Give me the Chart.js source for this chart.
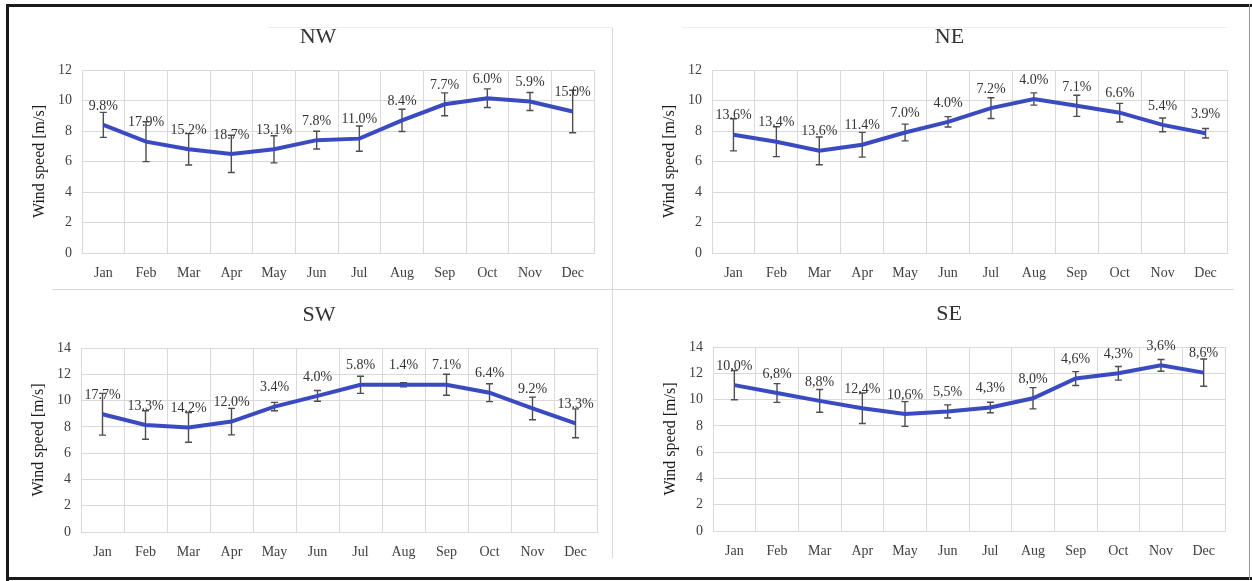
<!DOCTYPE html>
<html>
<head>
<meta charset="utf-8">
<script src="https://cdn.jsdelivr.net/npm/chart.js@4.4.0/dist/chart.umd.min.js"></script>
<style>
  html, body { margin: 0; padding: 0; background: #fff; }
  #page { position: relative; width: 1252px; height: 581px; overflow: hidden; background: #fff; }
  #page canvas { position: absolute; }
  .ln { position: absolute; }
</style>
</head>
<body>
<div id="page">
  <!-- frame and panel separators -->
  <div class="ln" style="left:6px;top:4px;width:1246px;height:3px;background:#1a1a1a"></div>
  <div class="ln" style="left:6px;top:4px;width:3px;height:577px;background:#1a1a1a"></div>
  <div class="ln" style="left:6px;top:577px;width:1246px;height:3px;background:#1a1a1a"></div>
  <div class="ln" style="left:1249px;top:4px;width:1px;height:576px;background:#9a9a9a"></div>
  <div class="ln" style="left:52px;top:289px;width:1182px;height:1px;background:#d9d9d9"></div>
  <div class="ln" style="left:612px;top:27px;width:1px;height:531px;background:#d9d9d9"></div>
  <div class="ln" style="left:268px;top:27px;width:345px;height:1px;background:#eeeeee"></div>
  <div class="ln" style="left:682px;top:27px;width:545px;height:1px;background:#eeeeee"></div>
</div>
<script>
const months = ["Jan", "Feb", "Mar", "Apr", "May", "Jun", "Jul", "Aug", "Sep", "Oct", "Nov", "Dec"];

// NW
const nwSpeed = [8.4, 7.3, 6.8, 6.5, 6.8, 7.4, 7.5, 8.7, 9.75, 10.15, 9.93, 9.28];
const nwError = [0.82, 1.31, 1.03, 1.22, 0.89, 0.58, 0.83, 0.73, 0.75, 0.61, 0.59, 1.39];
const nwPct = ["9.8%", "17.9%", "15.2%", "18.7%", "13.1%", "7.8%", "11.0%", "8.4%", "7.7%", "6.0%", "5.9%", "15.0%"];

// NE
const neSpeed = [7.75, 7.3, 6.7, 7.1, 7.9, 8.6, 9.5, 10.1, 9.65, 9.2, 8.4, 7.85];
const neError = [1.05, 0.98, 0.91, 0.81, 0.55, 0.34, 0.68, 0.40, 0.69, 0.61, 0.45, 0.31];
const nePct = ["13.6%", "13.4%", "13.6%", "11.4%", "7.0%", "4.0%", "7.2%", "4.0%", "7.1%", "6.6%", "5.4%", "3.9%"];

// SW
const swSpeed = [8.96, 8.14, 7.96, 8.4, 9.54, 10.36, 11.2, 11.2, 11.2, 10.6, 9.4, 8.27];
const swError = [1.59, 1.08, 1.13, 1.01, 0.32, 0.41, 0.65, 0.16, 0.80, 0.68, 0.86, 1.10];
const swPct = ["17.7%", "13.3%", "14.2%", "12.0%", "3.4%", "4.0%", "5.8%", "1.4%", "7.1%", "6.4%", "9.2%", "13.3%"];

// SE
const seSpeed = [11.1, 10.5, 9.9, 9.34, 8.9, 9.1, 9.4, 10.1, 11.6, 12.0, 12.6, 12.05];
const seError = [1.11, 0.71, 0.87, 1.16, 0.94, 0.50, 0.40, 0.81, 0.53, 0.52, 0.45, 1.04];
const sePct = ["10,0%", "6,8%", "8,8%", "12,4%", "10,6%", "5,5%", "4,3%", "8,0%", "4,6%", "4,3%", "3,6%", "8,6%"];

const FONT = "'Liberation Serif', 'Times New Roman', serif";
const LINE_COLOR = "#3a4bc2";
const GRID = "#d9d9d9";

// plot rectangle of each panel on the page
const panels = [
  { title: "NW", speed: nwSpeed, err: nwError, pct: nwPct, yMax: 12, area: { left: 82, right: 594, top: 70, bottom: 253 } },
  { title: "NE", speed: neSpeed, err: neError, pct: nePct, yMax: 12, area: { left: 712, right: 1227, top: 70, bottom: 253 } },
  { title: "SW", speed: swSpeed, err: swError, pct: swPct, yMax: 14, area: { left: 81, right: 597, top: 348, bottom: 532 } },
  { title: "SE", speed: seSpeed, err: seError, pct: sePct, yMax: 14, area: { left: 713, right: 1225, top: 347, bottom: 531 } }
];

const Y_W = 78, PAD_R = 18, PAD_T = 64, X_H = 30, PAD_B = 6;

// error bars, drawn under the line
const errorBars = {
  id: "errorBars",
  beforeDatasetsDraw(chart, args, opts) {
    const { ctx, scales: { y } } = chart;
    const meta = chart.getDatasetMeta(0);
    ctx.save();
    ctx.strokeStyle = "#4d4d4d";
    ctx.lineWidth = 1.4;
    meta.data.forEach((pt, i) => {
      const v = opts.values[i], e = opts.errors[i];
      const top = y.getPixelForValue(v + e);
      const bot = y.getPixelForValue(v - e);
      ctx.beginPath();
      ctx.moveTo(pt.x, top); ctx.lineTo(pt.x, bot);
      ctx.moveTo(pt.x - 3.5, top); ctx.lineTo(pt.x + 3.5, top);
      ctx.moveTo(pt.x - 3.5, bot); ctx.lineTo(pt.x + 3.5, bot);
      ctx.stroke();
    });
    ctx.restore();
  }
};

// percent labels above points and the panel title
const labels = {
  id: "labels",
  afterDatasetsDraw(chart, args, opts) {
    const { ctx, chartArea } = chart;
    const meta = chart.getDatasetMeta(0);
    ctx.save();
    ctx.fillStyle = "#333333";
    ctx.font = "14px " + FONT;
    ctx.textAlign = "center";
    ctx.textBaseline = "middle";
    meta.data.forEach((pt, i) => {
      ctx.fillText(opts.text[i], pt.x, pt.y - 19);
    });
    ctx.font = "22px " + FONT;
    ctx.fillText(opts.title, (chartArea.left + chartArea.right) / 2 - 20, chartArea.top - 33);
    ctx.restore();
  }
};

const page = document.getElementById("page");

panels.forEach(p => {
  const a = p.area;
  const left = a.left - Y_W, top = a.top - PAD_T;
  const w = a.right + PAD_R - left, h = a.bottom + X_H + PAD_B - top;
  const canvas = document.createElement("canvas");
  canvas.width = w; canvas.height = h;
  canvas.style.left = left + "px"; canvas.style.top = top + "px";
  canvas.style.width = w + "px"; canvas.style.height = h + "px";
  page.appendChild(canvas);

  new Chart(canvas, {
    type: "line",
    data: {
      labels: months,
      datasets: [{
        data: p.speed,
        borderColor: LINE_COLOR,
        borderWidth: 4,
        pointRadius: 0,
        tension: 0,
        fill: false
      }]
    },
    options: {
      responsive: false,
      animation: false,
      devicePixelRatio: 1,
      layout: { padding: { left: 0, right: PAD_R, top: PAD_T, bottom: PAD_B } },
      plugins: {
        legend: { display: false },
        tooltip: { enabled: false },
        errorBars: { values: p.speed, errors: p.err },
        labels: { text: p.pct, title: p.title }
      },
      scales: {
        x: {
          offset: true,
          grid: { offset: true, color: GRID, drawTicks: false },
          border: { color: GRID },
          ticks: { color: "#404040", font: { family: FONT, size: 14 }, padding: 12, maxRotation: 0, autoSkip: false },
          afterFit: s => { s.height = X_H; }
        },
        y: {
          min: 0,
          max: p.yMax,
          grid: { color: GRID, drawTicks: false },
          border: { color: GRID },
          ticks: { stepSize: 2, color: "#404040", font: { family: FONT, size: 14 }, padding: 10 },
          title: { display: true, text: "Wind speed [m/s]", color: "#1a1a1a", font: { family: FONT, size: 16 }, padding: { top: 26, bottom: 0 } },
          afterFit: s => { s.width = Y_W; }
        }
      }
    },
    plugins: [errorBars, labels]
  });
});
</script>
</body>
</html>
